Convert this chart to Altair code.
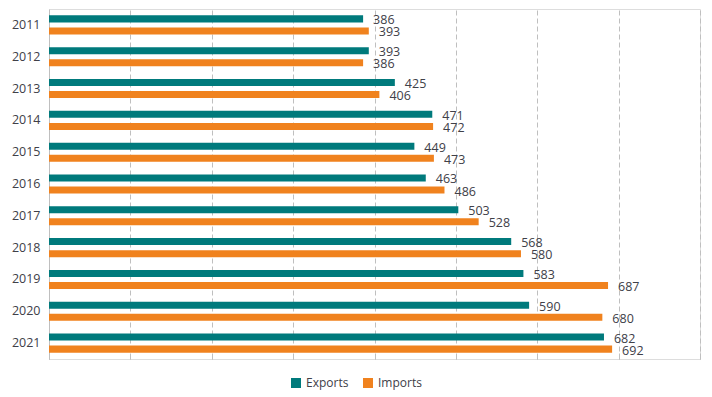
import altair as alt
import pandas as pd

years = ["2011", "2012", "2013", "2014", "2015", "2016", "2017", "2018", "2019", "2020", "2021"]
exports = [386, 393, 425, 471, 449, 463, 503, 568, 583, 590, 682]
imports = [393, 386, 406, 472, 473, 486, 528, 580, 687, 680, 692]
series = ["Exports", "Imports"]
colors = ["#007A7C", "#F0821E"]

rows = []
for i, y in enumerate(years):
    rows.append({"year": y, "series": "Exports", "value": exports[i]})
    rows.append({"year": y, "series": "Imports", "value": imports[i]})
df = pd.DataFrame(rows)

FONT = "Open Sans"
TXT = "#404048"
GRID = "#BFBFBF"

y_enc = alt.Y("year:N", sort=years, title=None,
              scale=alt.Scale(paddingInner=0.4, paddingOuter=0.2),
              axis=alt.Axis(ticks=False, domain=True, domainColor=GRID, labelFont=FONT,
                            labelFontSize=12.5, labelColor=TXT, labelPadding=9, grid=False))
yoff = alt.YOffset("series:N", sort=series, scale=alt.Scale(paddingInner=0.417, paddingOuter=0))
x_enc = alt.X("value:Q", title=None,
              scale=alt.Scale(domain=[0, 800], nice=False),
              axis=alt.Axis(values=[0, 100, 200, 300, 400, 500, 600, 700, 800], labels=False,
                            domain=False, ticks=True, tickSize=6, tickColor=GRID, offset=-6,
                            grid=True, gridColor=GRID, gridDash=[5, 3], gridWidth=1))
color_enc = alt.Color("series:N", sort=series,
                      scale=alt.Scale(domain=series, range=colors),
                      legend=alt.Legend(title=None, orient="none", legendX=241, legendY=368,
                                        direction="horizontal", symbolType="square",
                                        symbolSize=100, symbolStrokeWidth=0, labelFont=FONT,
                                        labelFontSize=12, labelColor=TXT, columnPadding=13,
                                        labelOffset=4, padding=0, labelLimit=200))

bars = alt.Chart(df).mark_bar().encode(y=y_enc, yOffset=yoff, x=x_enc, color=color_enc)
text = alt.Chart(df).mark_text(align="left", baseline="middle", dx=10, dy=1.5, font=FONT,
                               fontSize=12.5, color=TXT).encode(
    y=alt.Y("year:N", sort=years), yOffset=yoff, x=alt.X("value:Q"), text=alt.Text("value:Q"))

chart = alt.layer(bars, text).properties(
    width=651, height=350,
    autosize=alt.AutoSizeParams(type="none"),
    padding={"left": 41, "top": 1, "right": 4, "bottom": 36},
).configure_view(stroke=None).configure(background="white")

chart.save("out.html", embed_options={"renderer": "svg", "actions": False})
